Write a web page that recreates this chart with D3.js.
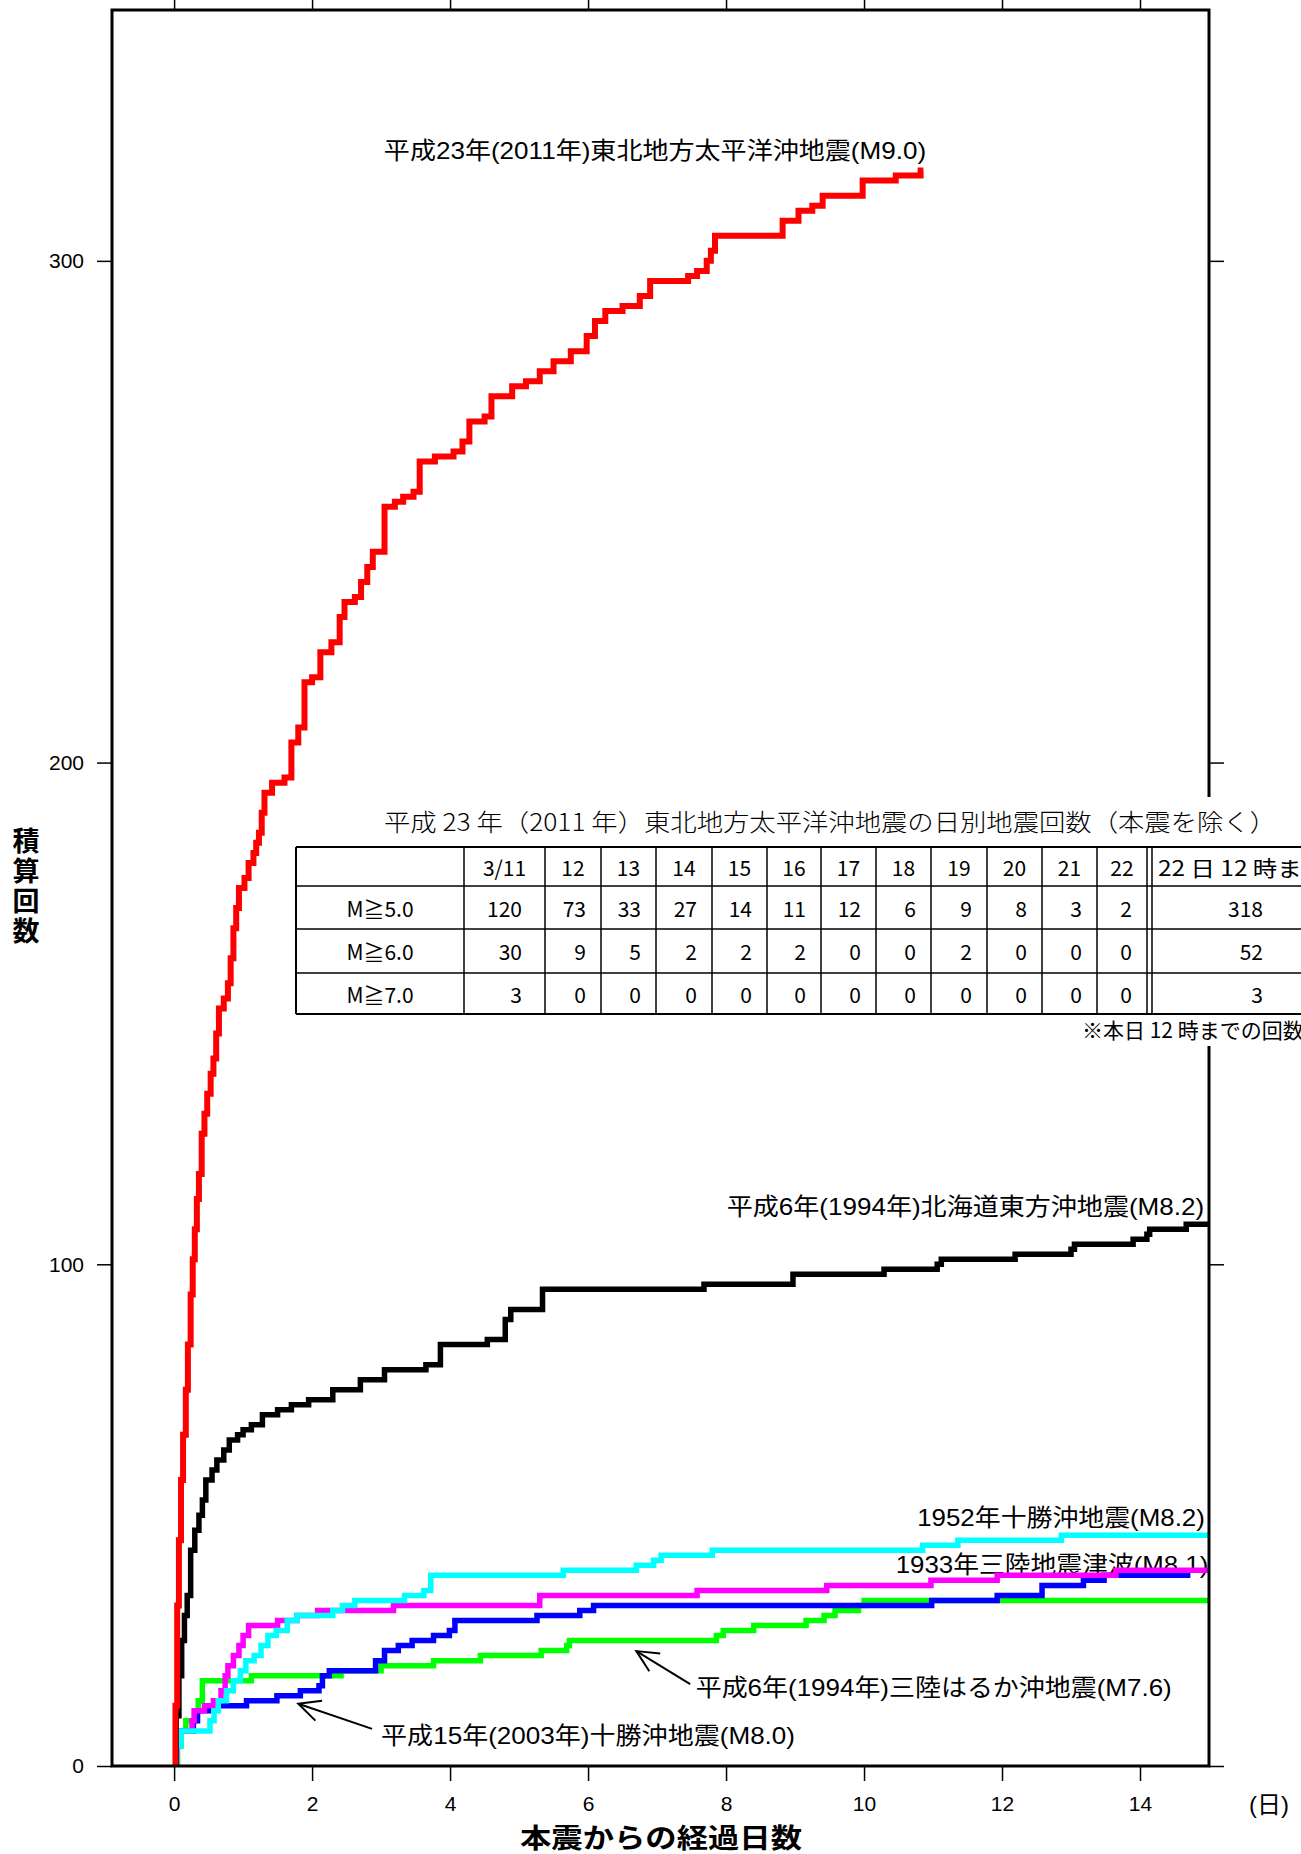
<!DOCTYPE html>
<html><head><meta charset="utf-8">
<script src="https://cdn.jsdelivr.net/npm/d3@7"></script>
<style>
html,body{margin:0;padding:0;background:#fff;overflow:hidden}
svg{display:block}
</style></head><body>
<svg id="chart" width="1301" height="1854"></svg>
<script>
// ---------------- DATA ----------------
const xTicks = [0, 2, 4, 6, 8, 10, 12, 14];
const yTicks = [0, 100, 200, 300];

// cumulative counts [days since main shock, cumulative count]
const tohoku2011 = [[0,0],[0.02,12],[0.045,32],[0.07,45],[0.1,57],[0.13,66],[0.17,75],[0.2,84],[0.24,94],[0.27,101],[0.3,107],[0.33,113],[0.36,118],[0.4,126],[0.44,130],[0.48,134],[0.53,138],[0.57,141],[0.61,146],[0.65,151],[0.72,153],[0.78,156],[0.82,161],[0.86,167],[0.9,171],[0.94,175],[1.02,177],[1.08,180],[1.15,182],[1.19,184],[1.23,186],[1.27,190],[1.31,194],[1.42,196],[1.6,197],[1.7,204],[1.8,207],[1.89,216],[2.0,217],[2.12,222],[2.28,224],[2.4,229],[2.47,232],[2.62,233],[2.71,236],[2.8,239],[2.88,242],[3.05,251],[3.2,252],[3.32,253],[3.47,254],[3.56,260],[3.78,261],[4.05,262],[4.18,264],[4.28,268],[4.5,269],[4.6,273],[4.9,275],[5.1,276],[5.3,278],[5.5,280],[5.75,282],[5.98,285],[6.1,288],[6.25,290],[6.5,291],[6.75,293],[6.9,296],[7.45,297],[7.58,298],[7.72,300],[7.78,302],[7.84,305],[8.82,308],[9.05,310],[9.25,311],[9.4,313],[9.98,316],[10.46,317],[10.82,318],[10.86,318]];
const hokkaidoToho1994 = [[0,0],[0.03,10],[0.07,18],[0.11,25],[0.15,30],[0.19,34],[0.24,43],[0.3,47],[0.36,50],[0.41,53],[0.46,57],[0.55,59],[0.62,61],[0.72,63],[0.8,65],[0.92,66],[1.0,67],[1.12,68],[1.28,70],[1.5,71],[1.7,72],[1.95,73],[2.3,75],[2.7,77],[3.05,79],[3.65,80],[3.86,84],[4.54,85],[4.8,89],[4.88,91],[5.34,95],[7.68,96],[8.97,98],[10.29,99],[11.06,100],[11.12,101],[12.19,102],[13.0,103],[13.05,104],[13.9,105],[14.1,106],[14.14,107],[14.67,108],[15,108]];
const tokachi1952 = [[0,0],[0.04,4],[0.1,7],[0.52,9],[0.58,11],[0.64,13],[0.76,15],[0.86,17],[0.96,19],[1.04,21],[1.16,22],[1.26,24],[1.36,26],[1.48,27],[1.64,29],[1.78,30],[2.3,31],[2.44,32],[2.62,33],[3.34,34],[3.62,35],[3.72,38],[5.64,39],[6.7,40],[6.95,41],[7.06,42],[7.8,43],[10.85,44],[11.36,45],[12.86,46],[15,46]];
const sanriku1933 = [[0,0],[0.04,4],[0.08,7],[0.26,9],[0.29,11],[0.44,12],[0.57,13],[0.68,15],[0.74,18],[0.78,20],[0.86,22],[0.94,24],[1.0,26],[1.08,28],[1.5,29],[1.78,30],[2.08,31],[3.18,32],[5.3,34],[7.58,35],[9.46,36],[10.97,37],[11.93,38],[13.65,39],[15,39]];
const tokachi2003 = [[0,0],[0.04,4],[0.08,7],[0.28,9],[0.34,11],[0.5,12],[1.05,13],[1.49,14],[1.83,15],[2.1,16],[2.15,18],[2.25,19],[2.92,21],[3.05,23],[3.25,24],[3.45,25],[3.76,26],[3.99,27],[4.07,29],[5.26,30],[5.88,31],[6.08,32],[10.98,33],[11.93,34],[12.58,36],[13.18,37],[13.48,38],[14.73,38]];
const sanrikuHaruka1994 = [[0,0],[0.05,4],[0.1,7],[0.17,9],[0.3,11],[0.35,13],[0.41,17],[1.12,18],[2.42,19],[3.0,20],[3.76,21],[4.44,22],[5.32,23],[5.69,24],[5.73,25],[7.86,26],[7.96,27],[8.4,28],[9.16,29],[9.42,30],[9.58,31],[9.78,31],[9.92,32],[10.0,33],[15,33]];

const seriesNames = [
  "平成6年(1994年)三陸はるか沖地震(M7.6)",
  "平成15年(2003年)十勝沖地震(M8.0)",
  "1933年三陸地震津波(M8.1)",
  "1952年十勝沖地震(M8.2)",
  "平成6年(1994年)北海道東方沖地震(M8.2)",
  "平成23年(2011年)東北地方太平洋沖地震(M9.0)"
];

const xAxisTitle = "本震からの経過日数";
const yAxisTitle = "積算回数";
const xUnit = "(日)";

const tableTitle = "平成 23 年（2011 年）東北地方太平洋沖地震の日別地震回数（本震を除く）";
const tableColumns = ["", "3/11", "12", "13", "14", "15", "16", "17", "18", "19", "20", "21", "22", "22 日 12 時まで"];
const tableRowLabels = ["M≧5.0", "M≧6.0", "M≧7.0"];
const countsM5 = [120, 73, 33, 27, 14, 11, 12, 6, 9, 8, 3, 2, 318];
const countsM6 = [30, 9, 5, 2, 2, 2, 0, 0, 2, 0, 0, 0, 52];
const countsM7 = [3, 0, 0, 0, 0, 0, 0, 0, 0, 0, 0, 0, 3];
const tableNote = "※本日 12 時までの回数";

// ---------------- DRAWING ----------------
const FONT = '"Liberation Sans", Arial, "Noto Sans CJK JP", sans-serif';
const CJK = '"Noto Sans CJK JP", sans-serif';
const svg = d3.select("#chart");

const x = d3.scaleLinear().domain([-0.9, 15]).range([112, 1209]);
const y = d3.scaleLinear().domain([0, 350]).range([1766, 10]);

// axes
function styleAxis(g) {
  g.select(".domain").remove();
  g.selectAll(".tick line").attr("stroke", "#000").attr("stroke-width", 1.5);
  g.selectAll(".tick text").attr("font-family", FONT).attr("font-size", 21).attr("fill", "#000");
}
svg.append("g").attr("transform", "translate(112,0)")
  .call(d3.axisLeft(y).tickValues(yTicks).tickSize(15).tickPadding(13)).call(styleAxis);
svg.append("g").attr("transform", "translate(1209,0)")
  .call(d3.axisRight(y).tickValues(yTicks).tickSize(15).tickFormat("")).call(styleAxis);
const gb = svg.append("g").attr("transform", "translate(0,1766)")
  .call(d3.axisBottom(x).tickValues(xTicks).tickSize(15)).call(styleAxis);
gb.selectAll(".tick text").attr("y", 38).attr("dy", "0.35em");
svg.append("g").attr("transform", "translate(0,10)")
  .call(d3.axisTop(x).tickValues(xTicks).tickSize(10).tickFormat("")).call(styleAxis);

// axis titles
svg.append("text").attr("x", 661).attr("y", 1836).attr("text-anchor", "middle")
  .attr("dominant-baseline", "central").attr("font-family", CJK).attr("font-weight", "bold")
  .attr("font-size", 27).attr("textLength", 282).attr("lengthAdjust", "spacingAndGlyphs").text(xAxisTitle);
svg.append("text").attr("x", 1269).attr("y", 1804).attr("text-anchor", "middle")
  .attr("dominant-baseline", "central").attr("font-family", FONT).attr("font-size", 24).text(xUnit);
svg.append("text").attr("x", 26).attr("y", 887).attr("text-anchor", "middle")
  .attr("writing-mode", "vertical-rl").attr("font-family", CJK).attr("font-weight", "bold")
  .attr("font-size", 27).attr("letter-spacing", 3).text(yAxisTitle);

// labels (drawn before lines)
const labelLayout = [
  {name: seriesNames[5], d0: 3.04, d1: 10.9, v: 322},
  {name: seriesNames[4], d0: 8.01, d1: 14.93, v: 111.6},
  {name: seriesNames[3], d0: 10.77, d1: 14.94, v: 49.6},
  {name: seriesNames[2], d0: 10.46, d1: 14.99, v: 40.1},
  {name: seriesNames[0], d0: 7.56, d1: 14.46, v: 15.7},
  {name: seriesNames[1], d0: 3.0, d1: 9.0, v: 6.0}
];
svg.append("g").selectAll("text").data(labelLayout).join("text")
  .attr("x", d => x(d.d0)).attr("y", d => y(d.v))
  .attr("dominant-baseline", "central").attr("font-family", FONT).attr("font-size", 24)
  .attr("textLength", d => x(d.d1) - x(d.d0)).attr("lengthAdjust", "spacingAndGlyphs")
  .attr("fill", "#000").text(d => d.name);

// arrows
const arrows = [
  {from: [2.87, 7.4], to: [1.80, 12.4]},
  {from: [7.48, 16.3], to: [6.70, 22.9]}
];
const ga = svg.append("g").attr("stroke", "#000").attr("stroke-width", 2).attr("fill", "none");
arrows.forEach(a => {
  const x1 = x(a.from[0]), y1 = y(a.from[1]), x2 = x(a.to[0]), y2 = y(a.to[1]);
  const ang = Math.atan2(y1 - y2, x1 - x2);
  const L = 24, sp = 0.45;
  ga.append("line").attr("x1", x1).attr("y1", y1).attr("x2", x2).attr("y2", y2);
  ga.append("path").attr("d",
    `M${x2 + L * Math.cos(ang + sp)},${y2 + L * Math.sin(ang + sp)}L${x2},${y2}L${x2 + L * Math.cos(ang - sp)},${y2 + L * Math.sin(ang - sp)}`);
});

// curves
svg.append("clipPath").attr("id", "plotclip").append("rect")
  .attr("x", 112).attr("y", 10).attr("width", 1097).attr("height", 1756);
const line = d3.line().curve(d3.curveStepAfter).x(d => x(d[0])).y(d => y(d[1]));
const curves = [
  {data: sanrikuHaruka1994, color: "#00ff00", w: 5.5},
  {data: tokachi2003, color: "#0000ff", w: 5.5},
  {data: sanriku1933, color: "#ff00ff", w: 5.5},
  {data: tokachi1952, color: "#00ffff", w: 5.5},
  {data: hokkaidoToho1994, color: "#000000", w: 5.5},
  {data: tohoku2011, color: "#ff0000", w: 6}
];
svg.append("g").attr("clip-path", "url(#plotclip)").selectAll("path").data(curves).join("path")
  .attr("d", d => line(d.data)).attr("fill", "none").attr("stroke", d => d.color)
  .attr("stroke-width", d => d.w).attr("stroke-linejoin", "miter").attr("stroke-linecap", "butt");

// frame
svg.append("rect").attr("x", 112).attr("y", 10).attr("width", 1097).attr("height", 1756)
  .attr("fill", "none").attr("stroke", "#000").attr("stroke-width", 3);

// ---------------- TABLE ----------------
const tg = svg.append("g");
tg.append("rect").attr("x", 292).attr("y", 797).attr("width", 1020).attr("height", 249).attr("fill", "#fff");
tg.append("text").attr("x", 384).attr("y", 820).attr("dominant-baseline", "central")
  .attr("font-family", CJK).attr("font-weight", 300).attr("font-size", 24)
  .attr("textLength", 892).attr("lengthAdjust", "spacingAndGlyphs").text(tableTitle);

const colEdges = [296, 464, 545, 601, 656, 712, 767, 821, 876, 931, 987, 1042, 1097, 1147];
const lastColStart = 1152, lastColEnd = 1340;
const rowEdges = [847, 886, 929, 973, 1014];
rowEdges.forEach((ry, i) => {
  tg.append("line").attr("x1", 296).attr("x2", lastColEnd).attr("y1", ry).attr("y2", ry)
    .attr("stroke", "#000").attr("stroke-width", (i === 0 || i === rowEdges.length - 1) ? 2 : 1.5);
});
colEdges.forEach((cx, i) => {
  tg.append("line").attr("x1", cx).attr("x2", cx).attr("y1", 847).attr("y2", 1014)
    .attr("stroke", "#000").attr("stroke-width", i === 0 ? 2 : 1.5);
});
tg.append("line").attr("x1", lastColStart).attr("x2", lastColStart).attr("y1", 847).attr("y2", 1014)
  .attr("stroke", "#000").attr("stroke-width", 1.5);

const cellFont = {family: CJK, size: 21};
// header
tableColumns.forEach((c, i) => {
  if (!c) return;
  const last = i === tableColumns.length - 1;
  const t = tg.append("text").attr("y", (rowEdges[0] + rowEdges[1]) / 2).attr("dominant-baseline", "central")
    .attr("font-family", cellFont.family).attr("font-size", cellFont.size).attr("fill", "#000").text(c);
  if (last) t.attr("x", 1158).attr("text-anchor", "start").attr("textLength", 168).attr("lengthAdjust", "spacingAndGlyphs");
  else t.attr("x", (colEdges[i] + colEdges[i + 1]) / 2).attr("text-anchor", "middle");
});
// rows
[countsM5, countsM6, countsM7].forEach((row, r) => {
  const cy = (rowEdges[r + 1] + rowEdges[r + 2]) / 2;
  tg.append("text").attr("x", 380).attr("y", cy).attr("text-anchor", "middle").attr("dominant-baseline", "central")
    .attr("font-family", cellFont.family).attr("font-size", cellFont.size).text(tableRowLabels[r]);
  row.forEach((v, j) => {
    let xr;
    if (j === row.length - 1) xr = 1263;
    else if (j === 0) xr = colEdges[2] - 23;
    else xr = colEdges[j + 2] - 15;
    tg.append("text").attr("x", xr).attr("y", cy).attr("text-anchor", "end").attr("dominant-baseline", "central")
      .attr("font-family", cellFont.family).attr("font-size", cellFont.size).text(v);
  });
});
tg.append("text").attr("x", 1082).attr("y", 1029).attr("dominant-baseline", "central")
  .attr("font-family", cellFont.family).attr("font-size", 21).text(tableNote);
</script>
</body></html>
